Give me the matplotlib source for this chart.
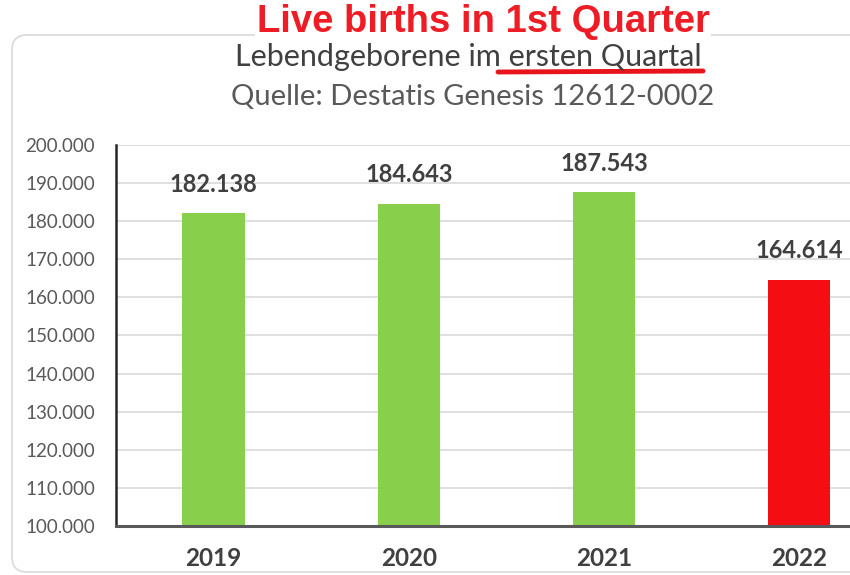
import matplotlib
matplotlib.use("Agg")
import matplotlib.pyplot as plt
from matplotlib.patches import FancyBboxPatch
from matplotlib.ticker import FuncFormatter

# Daten (Destatis Genesis 12612-0002)
years = ["2019", "2020", "2021", "2022"]
births = [182138, 184643, 187543, 164614]
colors = ["#88cf4c", "#88cf4c", "#88cf4c", "#f50d14"]
y_ticks = [100000, 110000, 120000, 130000, 140000, 150000,
           160000, 170000, 180000, 190000, 200000]


def de_format(v, pos=None):
    # Tausendertrennzeichen als Punkt
    return f"{int(v):,}".replace(",", ".")


fig = plt.figure(figsize=(8.5, 5.75), dpi=100)

# abgerundeter Rahmen
box = FancyBboxPatch((0.12, 0.03), 9.0, 5.37,
                     boxstyle="round,pad=0,rounding_size=0.15",
                     transform=fig.dpi_scale_trans,
                     facecolor="white", edgecolor="#d9d9d9", linewidth=1.2,
                     zorder=-5)
fig.patches.append(box)

ax = fig.add_axes([116 / 850, 1 - 526 / 575, 1 - 116 / 850, (526 - 145) / 575])
ax.set_facecolor("none")

x = range(len(years))
ax.bar(x, births, width=0.32, color=colors, zorder=3)

for xi, v in zip(x, births):
    ax.text(xi, v + 4600, de_format(v), ha="center", va="bottom",
            fontsize=17, fontweight="bold", color="#404040", family="Lato")

ax.set_ylim(100000, 200000)
ax.set_xlim(-0.5, 3.26)
ax.set_yticks(y_ticks)
ax.yaxis.set_major_formatter(FuncFormatter(de_format))
ax.set_xticks(list(x))
ax.set_xticklabels(years)

ax.grid(axis="y", color="#d9d9d9", linewidth=1.2, zorder=0)
for s in ["top", "right"]:
    ax.spines[s].set_visible(False)
ax.spines["left"].set_color("#262626")
ax.spines["left"].set_linewidth(1.8)
ax.spines["bottom"].set_color("#595959")
ax.spines["bottom"].set_linewidth(2.2)
ax.spines["bottom"].set_zorder(4)
ax.tick_params(axis="both", length=0)
ax.tick_params(axis="y", pad=15)
ax.tick_params(axis="x", pad=15)
for lab in ax.get_yticklabels():
    lab.set_family("Lato")
    lab.set_fontsize(13.5)
    lab.set_color("#595959")
for lab in ax.get_xticklabels():
    lab.set_family("Lato")
    lab.set_fontsize(17.5)
    lab.set_fontweight("bold")
    lab.set_color("#404040")

# Titel
fig.text(483 / 850, 1 - 22 / 575, "Live births in 1st Quarter", ha="center", va="center",
         fontsize=27.5, fontweight="bold", color="#ee1c25", family="Liberation Sans",
         bbox=dict(facecolor="white", edgecolor="none", pad=1))
fig.text(468 / 850, 1 - 57 / 575, "Lebendgeborene im ersten Quartal", ha="center", va="center",
         fontsize=22, color="#404040", family="Lato")
fig.text(473 / 850, 1 - 97 / 575, "Quelle: Destatis Genesis 12612-0002", ha="center", va="center",
         fontsize=21, color="#595959", family="Lato")

# rote Unterstreichung
fig.add_artist(plt.Line2D([498 / 850, 703 / 850], [1 - 72 / 575, 1 - 71 / 575],
                          color="#e8141b", linewidth=3.5, solid_capstyle="round"))

fig.savefig("out.png", dpi=100)
